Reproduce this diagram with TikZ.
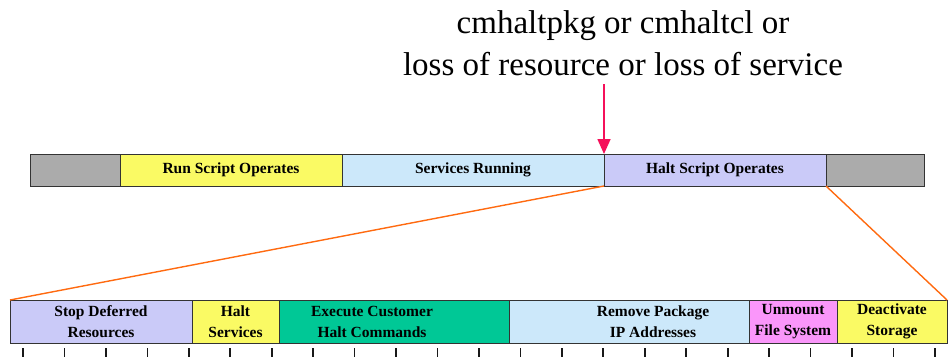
\documentclass[tikz,border=0pt]{standalone}
\usepackage{fontspec}
\setmainfont{Liberation Serif}
\usetikzlibrary{calc,arrows.meta}
\definecolor{endgray}{HTML}{ABABAB}
\definecolor{runyellow}{HTML}{FAFA64}
\definecolor{svcblue}{HTML}{CCE8FA}
\definecolor{haltlav}{HTML}{CACAF8}
\definecolor{cmdgreen}{HTML}{00C896}
\definecolor{umpink}{HTML}{FA96FA}
\definecolor{zoomorange}{HTML}{FF6A10}
\definecolor{trigred}{HTML}{F5105A}
\tikzset{
  seg/.style={draw=black!80, line width=1pt, inner sep=0pt, outer sep=0pt,
    anchor=north west, minimum height=32pt, align=center,
    font=\bfseries\fontsize{15.5}{21}\selectfont},
  lowseg/.style={seg, minimum height=43pt},
  zoomline/.style={draw=zoomorange, line width=1.4pt},
  trigarrow/.style={draw=trigred, line width=1.6pt, -{Triangle[width=13pt,length=15pt]}},
  tick/.style={draw=black!90, line width=1.7pt}
}
\begin{document}
\begin{tikzpicture}[x=1pt,y=-1pt]
\useasboundingbox (0,0) rectangle (948,357);

% upper bar
\node[seg, fill=endgray, minimum width=90pt] (g1) at (30,154) {};
\node[seg, fill=runyellow, minimum width=222pt] (rso) at (g1.north east) {Run Script Operates};
\node[seg, fill=svcblue, minimum width=262pt] (srv) at (rso.north east) {Services Running};
\node[seg, fill=haltlav, minimum width=222pt] (hso) at (srv.north east) {Halt Script Operates};
\node[seg, fill=endgray, minimum width=98pt] (g2) at (hso.north east) {};

% lower bar
\node[lowseg, fill=haltlav, minimum width=182pt] (sdr) at (10,300) {Stop Deferred\\Resources};
\node[lowseg, fill=runyellow, minimum width=87pt] (hsv) at (sdr.north east) {Halt\\Services};
\node[lowseg, fill=cmdgreen, minimum width=230pt] (ech) at (hsv.north east) {};
\node[lowseg, fill=svcblue, minimum width=240pt] (rpa) at (ech.north east) {};
\node[lowseg, fill=umpink, minimum width=88pt] (ufs) at (rpa.north east) {Unmount\\File System};
\node[lowseg, fill=runyellow, minimum width=110pt] (das) at (ufs.north east) {Deactivate\\Storage};
\node[seg, draw=none, fill=none, anchor=center] (echtext) at ($(ech)+(-22,0)$) {Execute Customer\\Halt Commands};
\node[seg, draw=none, fill=none, anchor=center] (rpatext) at ($(rpa)+(24,0)$) {Remove Package\\IP Addresses};

\draw[zoomline] (hso.south west) -- (sdr.north west);
\draw[zoomline] (hso.south east) -- (das.north east);

% trigger
\node[align=center, font=\fontsize{33}{42}\selectfont] (cause) at (623,43)
  {cmhaltpkg or cmhaltcl or\\loss of resource or loss of service};
\coordinate (trig) at (604,84);
\draw[trigarrow] (trig) -- (hso.north west);

\foreach \i in {0,...,22}
  \draw[tick] ({23+41.45*\i},348) -- ++(0,9);
\end{tikzpicture}
\end{document}
